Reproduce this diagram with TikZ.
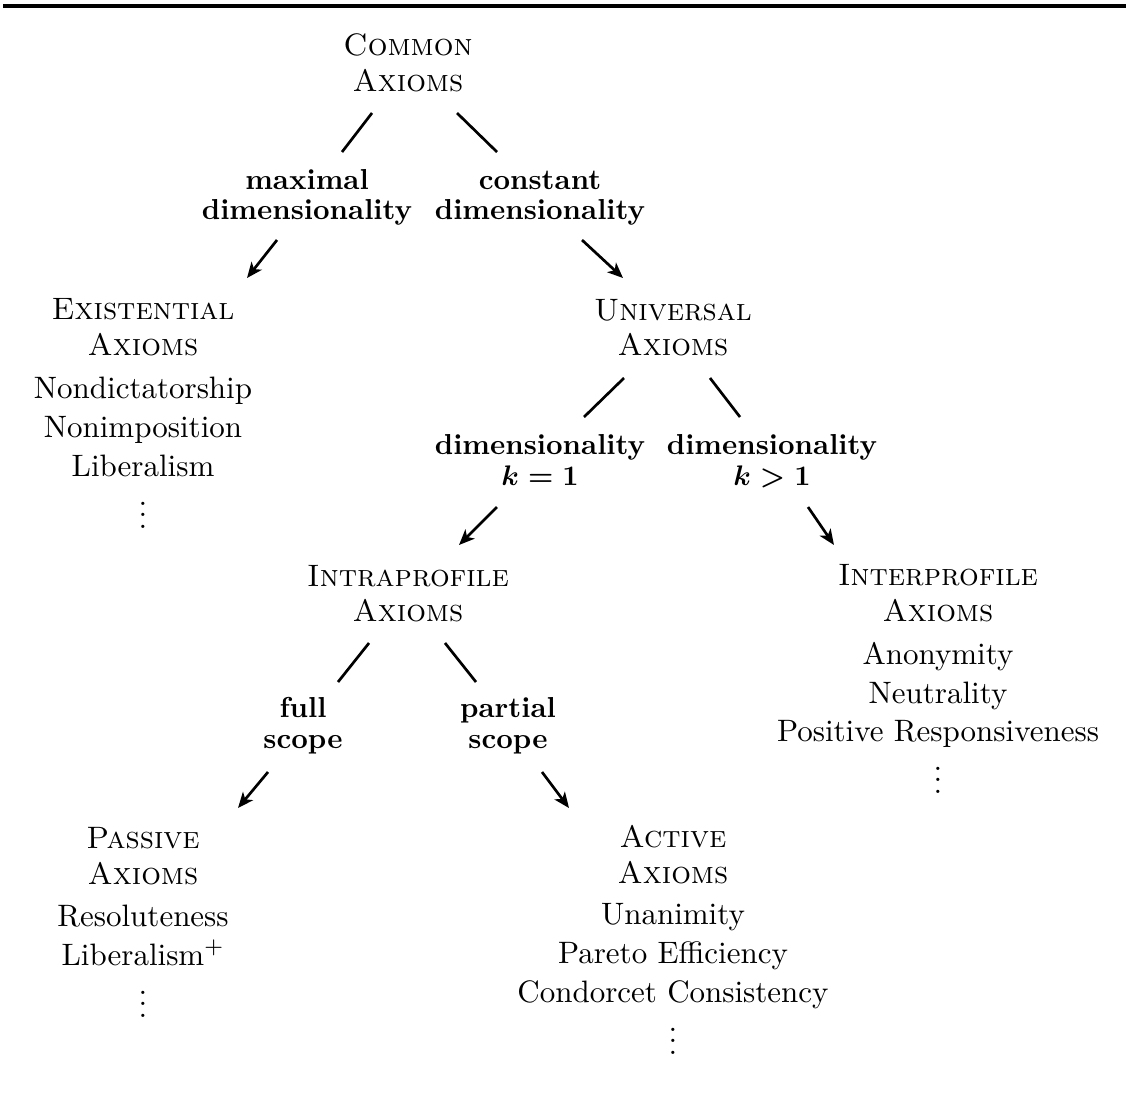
\documentclass[tikz,border=0pt]{standalone}
\usetikzlibrary{arrows.meta}
\newcommand\dotcol{\vbox{\baselineskip4pt\lineskiplimit0pt\hbox{.}\hbox{.}\hbox{.}}}
\begin{document}
\begin{tikzpicture}[x=0.3534pt,y=-0.3534pt,
  every node/.style={inner sep=0pt,outer sep=0pt,anchor=base,font=\fontsize{10.95}{13.6}\selectfont},
  hd/.style={font=\fontsize{10.95}{13.6}\selectfont\scshape},
  lb/.style={font=\fontsize{10.2}{12.4}\selectfont\bfseries\boldmath},
  conn/.style={line width=0.95pt},
  arr/.style={line width=0.95pt,-{Stealth[length=5.5pt,width=4.6pt,inset=1.5pt]}}]
\useasboundingbox (0,0) rectangle (1126,1095);
\draw[line width=1.2pt] (3,6) -- (1126,6);
% nodes
\node[hd] (com1) at (408,55) {Common};
\node[hd] (com2) at (408,91) {Axioms};
\node[lb] (max1) at (307,189) {maximal};
\node[lb] (max2) at (307,219) {dimensionality};
\node[lb] (con1) at (540,189) {constant};
\node[lb] (con2) at (540,219) {dimensionality};
\node[hd] (ex1) at (143,319) {Existential};
\node[hd] (ex2) at (143,355) {Axioms};
\node (ex3) at (143,398) {Nondictatorship};
\node (ex4) at (143,437) {Nonimposition};
\node (ex5) at (143,476) {Liberalism};
\node (ex6) at (143,528) {\dotcol};
\node[hd] (un1) at (673,320) {Universal};
\node[hd] (un2) at (673,355) {Axioms};
\node[lb] (da1) at (540,454) {dimensionality};
\node[lb] (da2) at (540,485) {$k=1$};
\node[lb] (db1) at (772,454) {dimensionality};
\node[lb] (db2) at (772,485) {$k>1$};
\node[hd] (ia1) at (408,586) {Intraprofile};
\node[hd] (ia2) at (408,621) {Axioms};
\node[hd] (ie1) at (938,585) {Interprofile};
\node[hd] (ie2) at (938,621) {Axioms};
\node (ie3) at (938,664) {Anonymity};
\node (ie4) at (938,703) {Neutrality};
\node (ie5) at (938,741) {Positive Responsiveness};
\node (ie6) at (938,793) {\dotcol};
\node[lb] (fu1) at (303,717) {full};
\node[lb] (fu2) at (303,748) {scope};
\node[lb] (pa1) at (508,717) {partial};
\node[lb] (pa2) at (508,748) {scope};
\node[hd] (ps1) at (143,848) {Passive};
\node[hd] (ps2) at (143,884) {Axioms};
\node (ps3) at (143,926) {Resoluteness};
\node (ps4) at (143,965) {Liberalism$^+$};
\node (ps5) at (143,1017) {\dotcol};
\node[hd] (ac1) at (673,847) {Active};
\node[hd] (ac2) at (673,883) {Axioms};
\node (ac3) at (673,924) {Unanimity};
\node (ac4) at (673,963) {Pareto Efficiency};
\node (ac5) at (673,1002) {Condorcet Consistency};
\node (ac6) at (673,1054) {\dotcol};
% connector end points
\coordinate (c1a) at (372,113); \coordinate (c1b) at (342,152);
\coordinate (c2a) at (457,113); \coordinate (c2b) at (497,152);
\coordinate (a1a) at (277,240); \coordinate (a1b) at (247,278);
\coordinate (a2a) at (582,240); \coordinate (a2b) at (623,278);
\coordinate (c3a) at (624,378); \coordinate (c3b) at (584,417);
\coordinate (c4a) at (710,378); \coordinate (c4b) at (740,417);
\coordinate (a3a) at (497,507); \coordinate (a3b) at (459,545);
\coordinate (a4a) at (808,507); \coordinate (a4b) at (834,545);
\coordinate (c5a) at (369,643); \coordinate (c5b) at (338,682);
\coordinate (c6a) at (445,643); \coordinate (c6b) at (476,682);
\coordinate (a5a) at (268,772); \coordinate (a5b) at (238,808);
\coordinate (a6a) at (542,772); \coordinate (a6b) at (569,808);
% connectors
\draw[conn] (c1a) -- (c1b);
\draw[conn] (c2a) -- (c2b);
\draw[arr] (a1a) -- (a1b);
\draw[arr] (a2a) -- (a2b);
\draw[conn] (c3a) -- (c3b);
\draw[conn] (c4a) -- (c4b);
\draw[arr] (a3a) -- (a3b);
\draw[arr] (a4a) -- (a4b);
\draw[conn] (c5a) -- (c5b);
\draw[conn] (c6a) -- (c6b);
\draw[arr] (a5a) -- (a5b);
\draw[arr] (a6a) -- (a6b);
\end{tikzpicture}
\end{document}
